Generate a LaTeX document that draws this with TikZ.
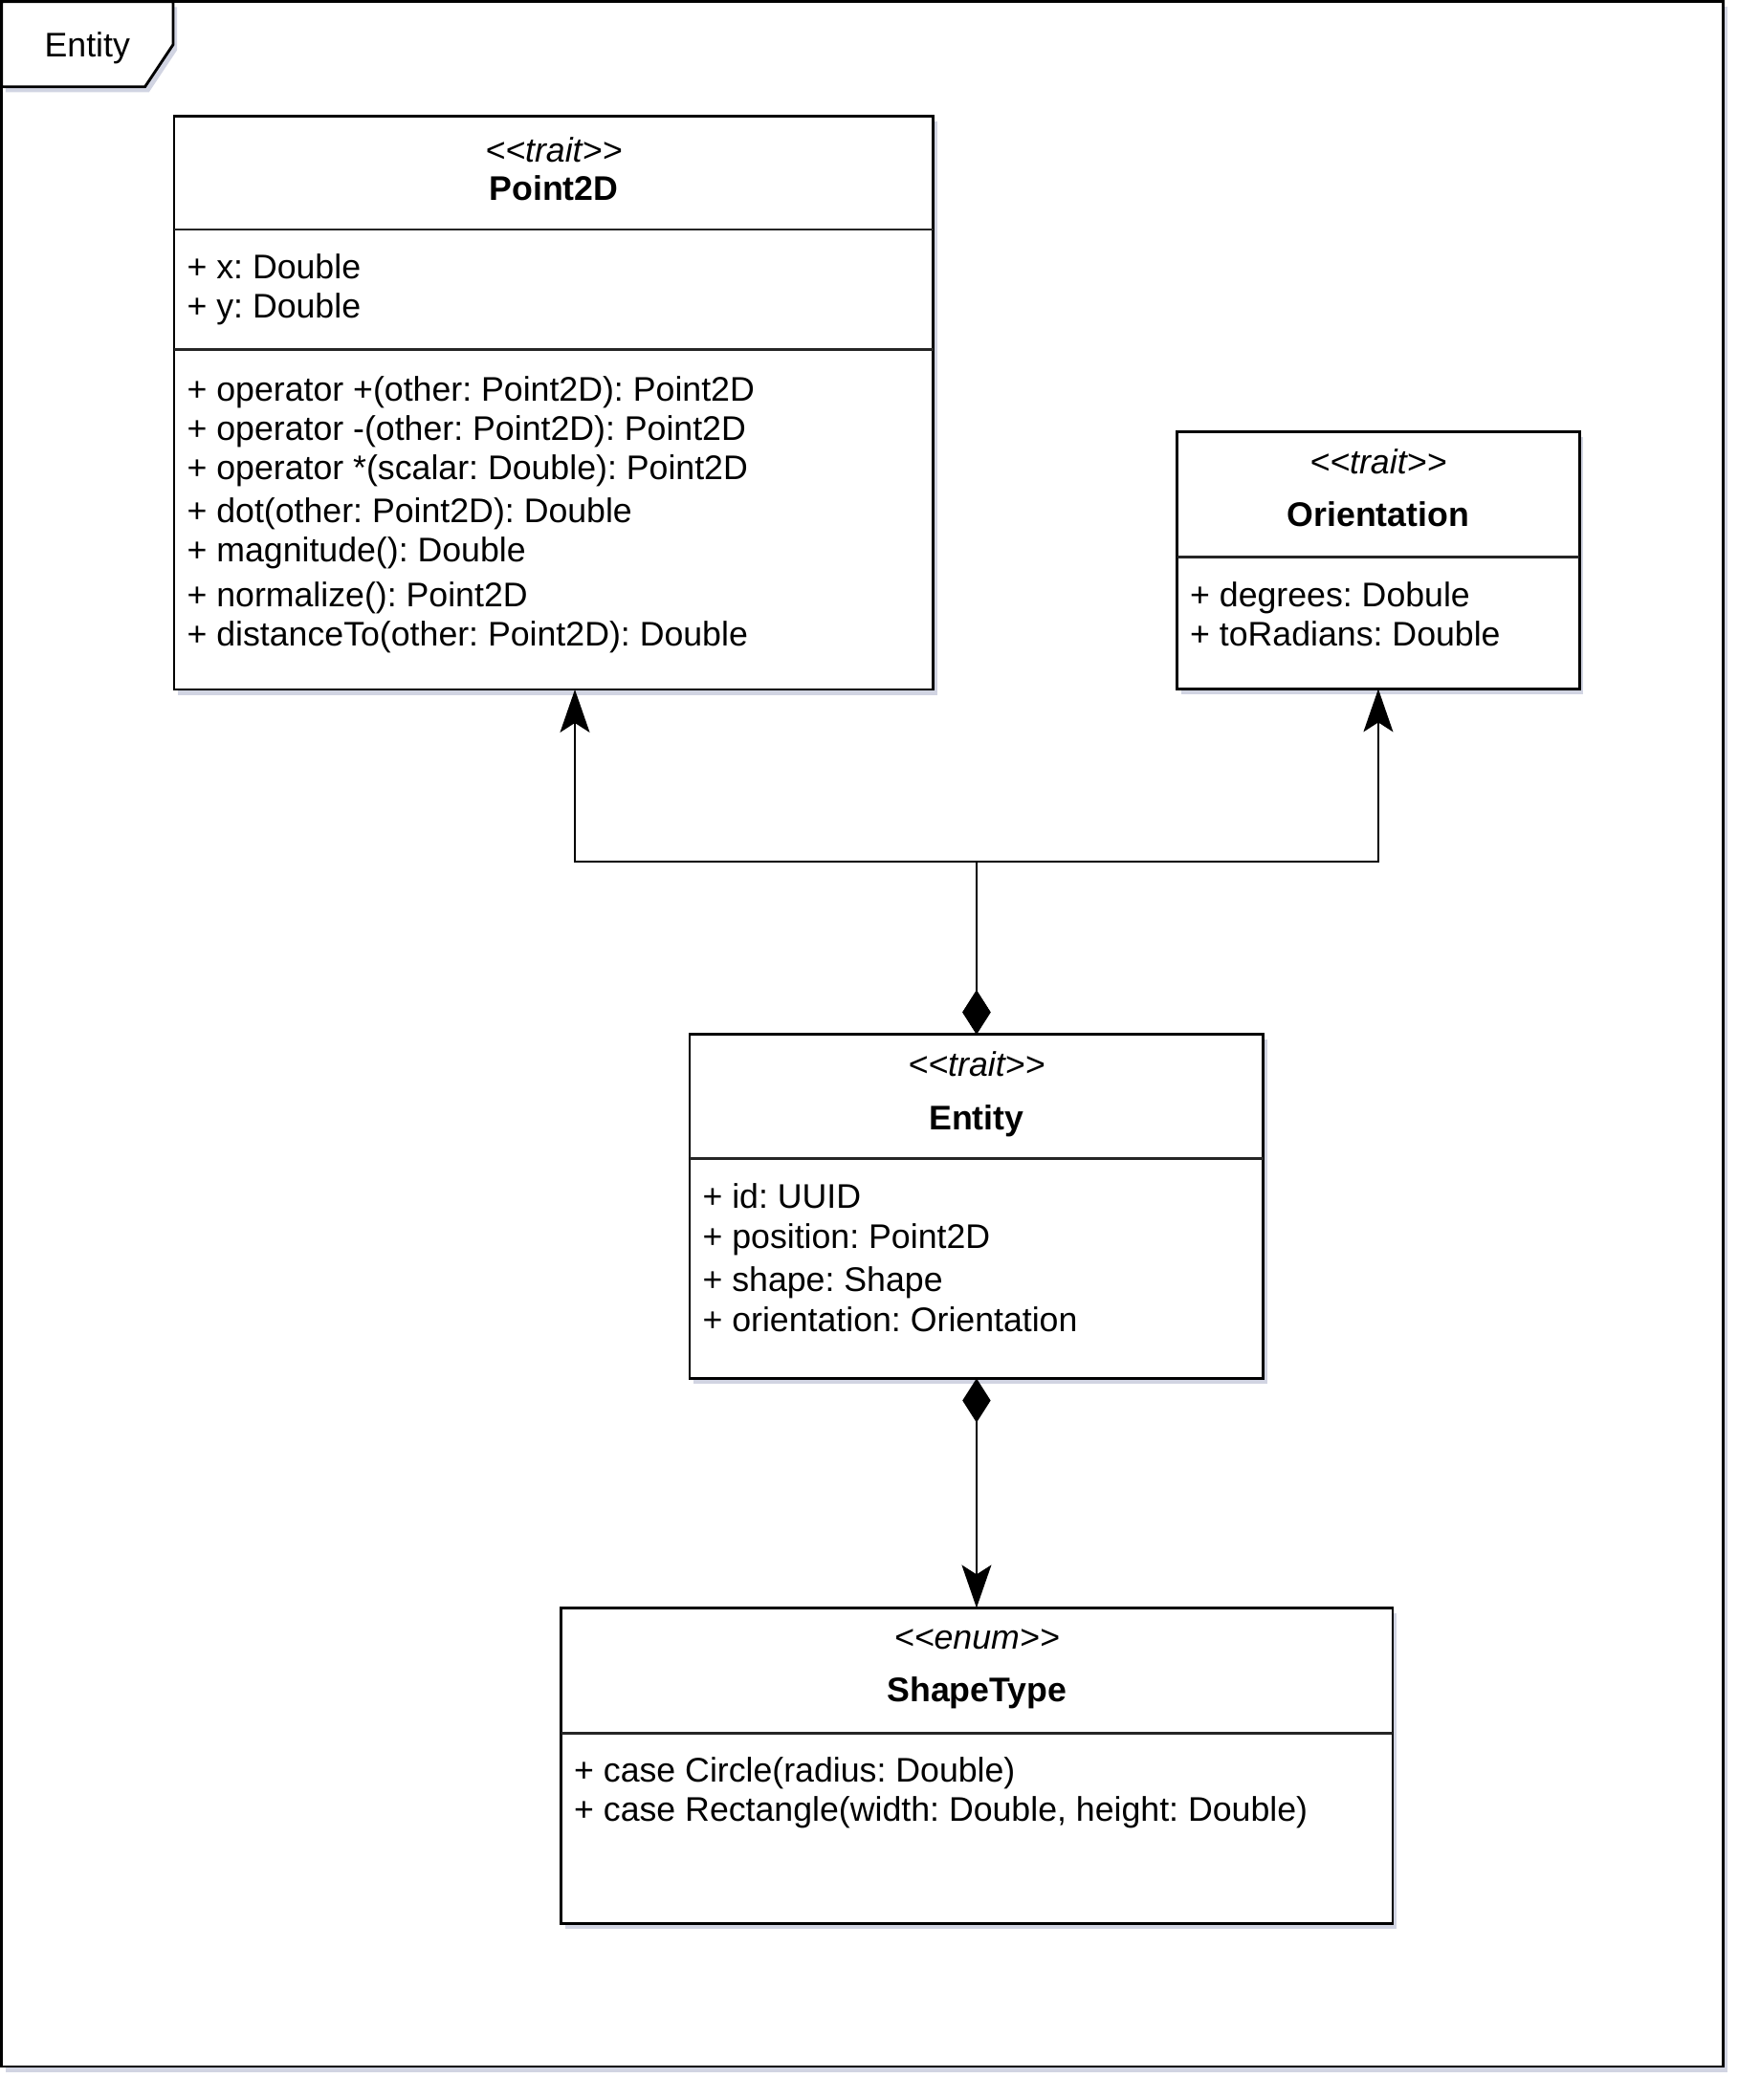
\documentclass[tikz,border=0pt]{standalone}
\usepackage{fontspec}
\setmainfont{Liberation Sans}
\frenchspacing
\usetikzlibrary{arrows.meta,shadows}
\definecolor{shcol}{RGB}{190,194,214}
\newcommand{\stereo}[1]{<{}<#1>{}>}
\begin{document}
\begin{tikzpicture}[x=1pt,y=-1pt,
  box/.style={draw=black, line width=2pt, fill=white, anchor=north west, inner sep=0pt, outer sep=0pt,
    drop shadow={shadow xshift=3pt, shadow yshift=-4pt, fill=shcol, opacity=0.7}},
  sepline/.style={draw=black!85, line width=2pt},
  txt/.style={anchor=base west, inner sep=0pt, font=\fontsize{25.5pt}{30pt}\selectfont},
  ster/.style={anchor=base, inner sep=0pt, font=\fontsize{25.5pt}{30pt}\selectfont\itshape},
  cname/.style={anchor=base, inner sep=0pt, font=\fontsize{25.5pt}{30pt}\selectfont\bfseries},
  conn/.style={line width=2pt, line join=miter, {Diamond[length=33pt,width=21pt]}-{Stealth[length=32pt,width=22pt,inset=7pt]}}
]
\useasboundingbox (0,0) rectangle (1313.6,1568.6);

% outer frame
\node[box, minimum width=1285.8pt, minimum height=1542.4pt] (frame) at (1.2,1.2) {};
\draw[line width=2pt, fill=white, drop shadow={shadow xshift=3pt, shadow yshift=-4pt, fill=shcol, opacity=0.7}]
  (1.2,1.2) -- (129.3,1.2) -- (129.3,33.3) -- (108.3,64.8) -- (1.2,64.8) -- cycle;
\node[anchor=base, inner sep=0pt, font=\fontsize{25.5pt}{30pt}\selectfont] (tablabel) at (65.2,42.4) {Entity};

% Point2D
\node[box, minimum width=567pt, minimum height=428pt] (p2d) at (130,87) {};
\draw[sepline] (130,171.4) -- (697,171.4);
\draw[sepline] (130,261) -- (697,261);
\node[ster] (p2dster) at (413.5,121) {\stereo{trait}};
\node[cname] (p2dname) at (413.5,149.5) {Point2D};
\node[txt] (p2da1) at (139.5,208.5) {+ x: Double};
\node[txt] (p2da2) at (139.5,237.5) {+ y: Double};
\node[txt] (p2dm1) at (139.5,299.5) {+ operator +(other: Point2D): Point2D};
\node[txt] (p2dm2) at (139.5,329) {+ operator -(other: Point2D): Point2D};
\node[txt] (p2dm3) at (139.5,358.5) {+ operator *(scalar: Double): Point2D};
\node[txt] (p2dm4) at (139.5,390.5) {+ dot(other: Point2D): Double};
\node[txt] (p2dm5) at (139.5,420) {+ magnitude(): Double};
\node[txt] (p2dm6) at (139.5,453) {+ normalize(): Point2D};
\node[txt] (p2dm7) at (139.5,482.5) {+ distanceTo(other: Point2D): Double};

% Orientation
\node[box, minimum width=300.5pt, minimum height=192pt] (ori) at (879,322.6) {};
\draw[sepline] (879,416) -- (1179.5,416);
\node[ster] (orister) at (1029.25,353.6) {\stereo{trait}};
\node[cname] (oriname) at (1029.25,392.9) {Orientation};
\node[txt] (oria1) at (888.5,452.9) {+ degrees: Dobule};
\node[txt] (oria2) at (888.5,482.3) {+ toRadians: Double};

% Entity
\node[box, minimum width=428.5pt, minimum height=257pt] (ent) at (515,772.6) {};
\draw[sepline] (515,865.5) -- (943.5,865.5);
\node[ster] (entster) at (729.25,803.6) {\stereo{trait}};
\node[cname] (entname) at (729.25,843.6) {Entity};
\node[txt] (enta1) at (524.5,902.5) {+ id: UUID};
\node[txt] (enta2) at (524.5,932.8) {+ position: Point2D};
\node[txt] (enta3) at (524.5,964.5) {+ shape: Shape};
\node[txt] (enta4) at (524.5,995) {+ orientation: Orientation};

% ShapeType
\node[box, minimum width=621pt, minimum height=236pt] (st) at (419,1201) {};
\draw[sepline] (419,1294.8) -- (1040,1294.8);
\node[ster] (stster) at (729.5,1232) {\stereo{enum}};
\node[cname] (stname) at (729.5,1271.4) {ShapeType};
\node[txt] (sta1) at (428.5,1331) {+ case Circle(radius: Double)};
\node[txt] (sta2) at (428.5,1360.7) {+ case Rectangle(width: Double, height: Double)};

% connectors
\coordinate (junc) at (729.25,643.6);
\draw[conn] (ent.north) -- (junc) -| ([xshift=15.8pt]p2d.south);
\draw[conn] (ent.north) -- (junc) -| (ori.south);
\draw[conn] (ent.south) -- (ent.south |- st.north);
\end{tikzpicture}
\end{document}
